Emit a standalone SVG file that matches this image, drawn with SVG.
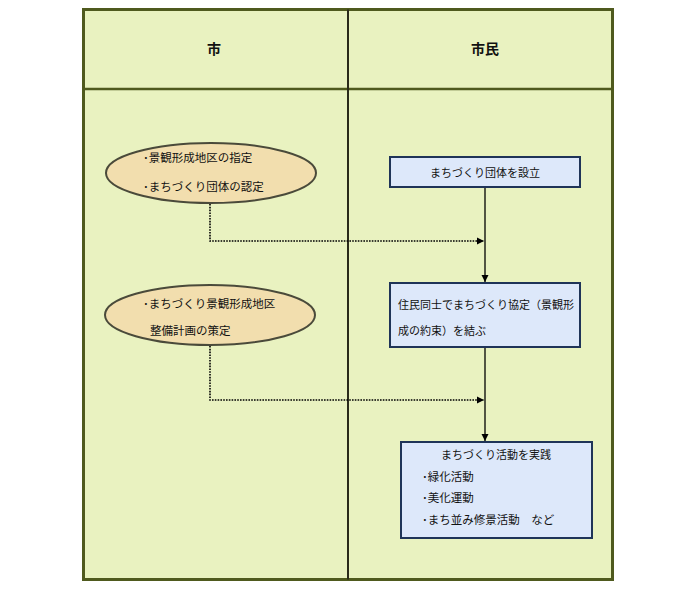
<svg xmlns="http://www.w3.org/2000/svg" width="677" height="594" viewBox="0 0 677 594">
<defs>
<style>
text{font-family:"Noto Sans CJK JP","Noto Sans CJK SC",sans-serif;font-size:11px;fill:#111}
.hd{font-size:14px;font-weight:bold}
.lg{font-size:11.5px}
.ell{fill:#F2DEAE;stroke:#4A4A3A;stroke-width:2}
.box{fill:#DDE8FA;stroke:#1F3458;stroke-width:2}
.solid{stroke:#000;stroke-width:1.3;fill:none}
.dot{stroke:#000;stroke-width:1.6;fill:none;stroke-dasharray:1.6 1.2}
</style>
<marker id="ah" markerWidth="8" markerHeight="8" refX="7" refY="4" orient="auto" markerUnits="userSpaceOnUse">
<path d="M0,0.5 L7,4 L0,7.5 Z" fill="#000"/>
</marker>
</defs>
<rect width="677" height="594" fill="#fff"/>
<g id="lanes">
<rect x="83.5" y="9.5" width="529" height="570" fill="#E9F2C0" stroke="#4F5A1E" stroke-width="3"/>
<line x1="83.5" y1="89" x2="612.5" y2="89" stroke="#4F5A1E" stroke-width="2.5"/>
<line x1="348" y1="9.5" x2="348" y2="579.5" stroke="#2A2A1A" stroke-width="2"/>
<text class="hd" x="214" y="54" text-anchor="middle">市</text>
<text class="hd" x="485" y="54" text-anchor="middle">市民</text>
</g>
<g id="connectors">
<line class="solid" x1="485" y1="188" x2="485" y2="282" marker-end="url(#ah)"/>
<line class="solid" x1="485" y1="348" x2="485" y2="441" marker-end="url(#ah)"/>
<polyline class="dot" points="210,204 210,241 484,241" marker-end="url(#ah)"/>
<polyline class="dot" points="210,346 210,400 484,400" marker-end="url(#ah)"/>
</g>
<g id="e1">
<ellipse class="ell" cx="211" cy="173" rx="105" ry="30"/>
<text class="lg" x="143" y="162">･景観形成地区の指定</text>
<text class="lg" x="143" y="191">･まちづくり団体の認定</text>
</g>
<g id="e2">
<ellipse class="ell" cx="210" cy="315" rx="105" ry="30"/>
<text class="lg" x="143" y="308">･まちづくり景観形成地区</text>
<text class="lg" x="150" y="335">整備計画の策定</text>
</g>
<g id="b1">
<rect class="box" x="390" y="157" width="190" height="30"/>
<text x="485" y="177" text-anchor="middle">まちづくり団体を設立</text>
</g>
<g id="b2">
<rect class="box" x="390" y="283" width="190" height="64"/>
<text x="398" y="309">住民同士でまちづくり協定（景観形</text>
<text x="398" y="335">成の約束）を結ぶ</text>
</g>
<g id="b3">
<rect class="box" x="401" y="442" width="191" height="96"/>
<text x="496" y="459" text-anchor="middle">まちづくり活動を実践</text>
<text class="lg" x="422" y="481">･緑化活動</text>
<text class="lg" x="422" y="502">･美化運動</text>
<text class="lg" x="422" y="524">･まち並み修景活動　など</text>
</g>
</svg>
